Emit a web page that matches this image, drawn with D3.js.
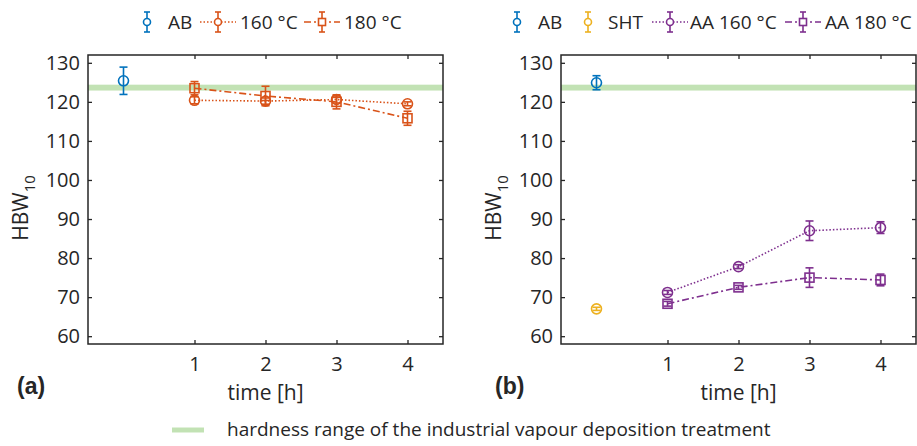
<!DOCTYPE html>
<html>
<head>
<meta charset="utf-8">
<script src="https://cdn.jsdelivr.net/npm/d3@7"></script>
<style>
  body { margin: 0; background: #fff; }
  text { font-family: "Open Sans", "Noto Sans", sans-serif; fill: #262626; }
</style>
</head>
<body>
<div id="chart"></div>
<script>
// data
var times = [1, 2, 3, 4];
var yTicks = [60, 70, 80, 90, 100, 110, 120, 130];
var bandRange = [122.9, 124.4];

// panel (a)
var abA = [125.4];
var abAErr = [3.5];
var t160 = [120.4, 120.2, 120.6, 119.5];
var t160Err = [0.9, 0.8, 0.9, 0.5];
var t180 = [123.5, 121.5, 120.0, 115.8];
var t180Err = [1.7, 2.5, 1.8, 1.8];

// panel (b)
var abB = [124.9];
var abBErr = [1.8];
var sht = [67.0];
var shtErr = [0.4];
var aa160 = [71.2, 77.8, 87.0, 87.8];
var aa160Err = [0.5, 0.5, 2.5, 1.5];
var aa180 = [68.3, 72.5, 75.0, 74.4];
var aa180Err = [0.6, 0.5, 2.5, 1.5];

var blue = "#0072BD", orange = "#D95319", yellow = "#EDB120", purple = "#7E2F8E", green = "#c2e2b4";
var axisColor = "#262626";
var dotted = "1.5,2", dashDot = "7,3,2,3";

var svg = d3.select("#chart")
  .append("svg")
  .attr("width", 917)
  .attr("height", 446);

var makeX = function(left, right) {
  return d3.scaleLinear().domain([-0.5, 4.5]).range([left, right]);
};
var y = d3.scaleLinear().domain([58, 132]).range([344, 55]);

var drawPanel = function(x, series, label, labelX, hbwX) {
  var g = svg.append("g");

  // hardness band
  g.append("rect")
    .attr("x", x.range()[0])
    .attr("width", x.range()[1] - x.range()[0])
    .attr("y", y(bandRange[1]))
    .attr("height", y(bandRange[0]) - y(bandRange[1]))
    .attr("fill", green);

  series.forEach(function(s) {
    var pts = s.values.map(function(v, i) {
      return { t: s.t[i], v: v, e: s.err[i] };
    });

    if (s.dash) {
      g.append("path")
        .datum(pts)
        .attr("fill", "none")
        .attr("stroke", s.color)
        .attr("stroke-width", 1.6)
        .attr("stroke-dasharray", s.dash)
        .attr("d", d3.line().x(function(d) { return x(d.t); }).y(function(d) { return y(d.v); }));
    }

    var eb = g.selectAll(null).data(pts).enter().append("g")
      .attr("stroke", s.color)
      .attr("stroke-width", 1.6)
      .attr("fill", "none");
    eb.append("line")
      .attr("x1", function(d) { return x(d.t); })
      .attr("x2", function(d) { return x(d.t); })
      .attr("y1", function(d) { return y(d.v - d.e); })
      .attr("y2", function(d) { return y(d.v + d.e); });
    [-1, 1].forEach(function(sign) {
      eb.append("line")
        .attr("x1", function(d) { return x(d.t) - 4; })
        .attr("x2", function(d) { return x(d.t) + 4; })
        .attr("y1", function(d) { return y(d.v + sign * d.e); })
        .attr("y2", function(d) { return y(d.v + sign * d.e); });
    });
    if (s.marker == "square") {
      eb.append("rect")
        .attr("x", function(d) { return x(d.t) - 4.5; })
        .attr("y", function(d) { return y(d.v) - 4.5; })
        .attr("width", 9).attr("height", 9);
    } else {
      eb.append("circle")
        .attr("cx", function(d) { return x(d.t); })
        .attr("cy", function(d) { return y(d.v); })
        .attr("r", 5);
    }
  });

  // box with inward ticks
  var x0 = x.range()[0], x1 = x.range()[1], y0 = y.range()[1], y1 = y.range()[0];
  g.append("rect")
    .attr("x", x0).attr("y", y0)
    .attr("width", x1 - x0).attr("height", y1 - y0)
    .attr("fill", "none").attr("stroke", axisColor).attr("stroke-width", 1.5);

  g.append("g").attr("transform", "translate(0," + y1 + ")")
    .call(d3.axisBottom(x).tickValues(times).tickFormat(d3.format("d")).tickSizeInner(-4).tickSizeOuter(0).tickPadding(13))
    .call(function(a) { a.select(".domain").remove(); });
  g.append("g").attr("transform", "translate(0," + y0 + ")")
    .call(d3.axisTop(x).tickValues(times).tickSizeInner(-4).tickSizeOuter(0).tickFormat(""))
    .call(function(a) { a.select(".domain").remove(); });
  g.append("g").attr("transform", "translate(" + x0 + ",0)")
    .call(d3.axisLeft(y).tickValues(yTicks).tickSizeInner(-4).tickSizeOuter(0).tickPadding(8))
    .call(function(a) { a.select(".domain").remove(); });
  g.append("g").attr("transform", "translate(" + x1 + ",0)")
    .call(d3.axisRight(y).tickValues(yTicks).tickSizeInner(-4).tickSizeOuter(0).tickFormat(""))
    .call(function(a) { a.select(".domain").remove(); });

  g.selectAll(".tick line").attr("stroke", axisColor).attr("stroke-width", 1.3);
  g.selectAll(".tick text").style("font-family", "'Open Sans', sans-serif")
    .style("font-size", "20px").attr("fill", axisColor);

  g.append("text")
    .attr("x", (x0 + x1) / 2)
    .attr("y", 400)
    .attr("text-anchor", "middle")
    .style("font-size", "21px")
    .text("time [h]");

  var hbw = g.append("text")
    .attr("transform", "translate(" + hbwX + ",208) rotate(-90)")
    .attr("text-anchor", "middle")
    .style("font-size", "21px");
  hbw.append("tspan").text("HBW");
  hbw.append("tspan").attr("dy", 7).style("font-size", "15px").text("10");

  g.append("text")
    .attr("x", labelX)
    .attr("y", 394)
    .style("font-family", "'Liberation Sans', Arial, sans-serif")
    .style("font-weight", "bold")
    .style("font-size", "23px")
    .attr("fill", "#000")
    .text(label);
};

var drawLegend = function(items) {
  items.forEach(function(it) {
    var g = svg.append("g").attr("stroke", it.color).attr("stroke-width", 1.6).attr("fill", "none");
    if (it.dash) {
      g.append("line").attr("x1", it.x - 18).attr("x2", it.x + 18).attr("y1", 22).attr("y2", 22)
        .attr("stroke-dasharray", it.dash);
    }
    g.append("line").attr("x1", it.x).attr("x2", it.x).attr("y1", 12).attr("y2", 32);
    g.append("line").attr("x1", it.x - 3).attr("x2", it.x + 3).attr("y1", 12).attr("y2", 12);
    g.append("line").attr("x1", it.x - 3).attr("x2", it.x + 3).attr("y1", 32).attr("y2", 32);
    if (it.marker == "square") {
      g.append("rect").attr("x", it.x - 3.5).attr("y", 18.5).attr("width", 7).attr("height", 7).attr("fill", "#fff");
    } else {
      g.append("circle").attr("cx", it.x).attr("cy", 22).attr("r", 3.5).attr("fill", "#fff");
    }
    svg.append("text")
      .attr("x", it.tx)
      .attr("y", 29)
      .style("font-size", "19px")
      .text(it.name);
  });
};

var xa = makeX(88, 443);
var xb = makeX(561, 916);

drawPanel(xa, [
  { t: [0], values: abA, err: abAErr, color: blue, marker: "circle" },
  { t: times, values: t160, err: t160Err, color: orange, marker: "circle", dash: dotted },
  { t: times, values: t180, err: t180Err, color: orange, marker: "square", dash: dashDot }
], "(a)", 17, 28);

drawPanel(xb, [
  { t: [0], values: abB, err: abBErr, color: blue, marker: "circle" },
  { t: [0], values: sht, err: shtErr, color: yellow, marker: "circle" },
  { t: times, values: aa160, err: aa160Err, color: purple, marker: "circle", dash: dotted },
  { t: times, values: aa180, err: aa180Err, color: purple, marker: "square", dash: dashDot }
], "(b)", 495, 501);

drawLegend([
  { name: "AB", color: blue, x: 147, tx: 168 },
  { name: "160 °C", color: orange, x: 218, tx: 240, dash: dotted },
  { name: "180 °C", color: orange, x: 322, tx: 344, dash: dashDot, marker: "square" },
  { name: "AB", color: blue, x: 517, tx: 538 },
  { name: "SHT", color: yellow, x: 588, tx: 608 },
  { name: "AA 160 °C", color: purple, x: 670, tx: 690, dash: dotted },
  { name: "AA 180 °C", color: purple, x: 803, tx: 825, dash: dashDot, marker: "square" }
]);

// bottom legend for the band
svg.append("line")
  .attr("x1", 172).attr("x2", 204).attr("y1", 430).attr("y2", 430)
  .attr("stroke", green).attr("stroke-width", 5);
svg.append("text")
  .attr("x", 227)
  .attr("y", 436)
  .style("font-size", "19px")
  .text("hardness range of the industrial vapour deposition treatment");
</script>
</body>
</html>
